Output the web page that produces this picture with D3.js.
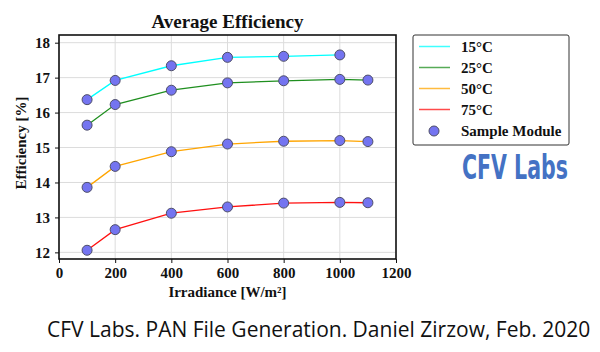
<!DOCTYPE html>
<html>
<head>
<meta charset="utf-8">
<script src="https://d3js.org/d3.v7.min.js"></script>
<style>
body{margin:0;background:#fff;}
text{font-family:"Liberation Serif","DejaVu Serif",serif;font-weight:bold;fill:#111;}
</style>
</head>
<body>
<div id="chart"></div>
<script>
// values
const irradiance = [100, 200, 400, 600, 800, 1000, 1100];
const temps = ['15°C', '25°C', '50°C', '75°C'];
const colors = ['#00ffff', '#1f8f1f', '#ffa500', '#ff1010'];
const eff15 = [16.37, 16.92, 17.34, 17.58, 17.61, 17.65];
const eff25 = [15.64, 16.23, 16.64, 16.85, 16.91, 16.95, 16.93];
const eff50 = [13.86, 14.46, 14.88, 15.10, 15.18, 15.20, 15.17];
const eff75 = [12.06, 12.65, 13.12, 13.30, 13.41, 13.43, 13.42];
const xTicks = [0, 200, 400, 600, 800, 1000, 1200];
const yTicks = [12, 13, 14, 15, 16, 17, 18];

const series = [eff15, eff25, eff50, eff75].map((vals, i) => ({
  name: temps[i],
  color: colors[i],
  pts: vals.map((v, j) => ({x: irradiance[j], y: v}))
}));

const W = 600, H = 352;
const margin = {top: 35, left: 59, right: 204, bottom: 93};
const pw = W - margin.left - margin.right;
const ph = H - margin.top - margin.bottom;

const svg = d3.select('#chart').append('svg')
  .attr('width', W).attr('height', H);

const x = d3.scaleLinear().domain([0, 1200]).range([0, pw]);
const y = d3.scaleLinear().domain([11.81, 18.22]).range([ph, 0]);

const g = svg.append('g').attr('transform', `translate(${margin.left},${margin.top})`);

// grid
g.append('g').selectAll('line').data(xTicks).join('line')
  .attr('x1', d => x(d)).attr('x2', d => x(d))
  .attr('y1', 0).attr('y2', ph)
  .attr('stroke', '#dcdcdc').attr('stroke-width', 1);
g.append('g').selectAll('line').data(yTicks).join('line')
  .attr('y1', d => y(d)).attr('y2', d => y(d))
  .attr('x1', 0).attr('x2', pw)
  .attr('stroke', '#dcdcdc').attr('stroke-width', 1);

// axes
const xAxis = g.append('g').attr('transform', `translate(0,${ph})`)
  .call(d3.axisBottom(x).tickValues(xTicks).tickFormat(d3.format('d')).tickSize(4).tickPadding(4));
const yAxis = g.append('g')
  .call(d3.axisLeft(y).tickValues(yTicks).tickFormat(d3.format('d')).tickSize(4).tickPadding(5));
[xAxis, yAxis].forEach(a => {
  a.select('.domain').remove();
  a.selectAll('line').attr('stroke', '#111');
  a.selectAll('text').style('font-size', '15px').style('font-family', '"Liberation Serif",serif').style('font-weight', 'bold').attr('fill', '#111');
});

// frame
g.append('rect').attr('width', pw).attr('height', ph)
  .attr('fill', 'none').attr('stroke', '#111').attr('stroke-width', 1.6);

// lines
const line = d3.line().x(d => x(d.x)).y(d => y(d.y));
g.selectAll('.ln').data(series).join('path')
  .attr('class', 'ln')
  .attr('d', d => line(d.pts))
  .attr('fill', 'none')
  .attr('stroke', d => d.color)
  .attr('stroke-width', 1.3);

// sample markers
series.forEach(s => {
  g.append('g').selectAll('circle').data(s.pts).join('circle')
    .attr('cx', d => x(d.x)).attr('cy', d => y(d.y)).attr('r', 5)
    .attr('fill', '#7474f0').attr('stroke', '#4e4e68').attr('stroke-width', 1);
});

// title and labels
svg.append('text').attr('x', margin.left + pw / 2).attr('y', 28)
  .attr('text-anchor', 'middle').style('font-size', '19px').text('Average Efficiency');
svg.append('text').attr('x', margin.left + pw / 2).attr('y', 297)
  .attr('text-anchor', 'middle').style('font-size', '15px').text('Irradiance [W/m²]');
svg.append('text').attr('transform', `translate(26,143) rotate(-90)`)
  .attr('text-anchor', 'middle').style('font-size', '15px').text('Efficiency [%]');

// legend
const leg = svg.append('g').attr('transform', 'translate(413,35)');
leg.append('rect').attr('width', 156).attr('height', 110).attr('rx', 2)
  .attr('fill', '#fff').attr('stroke', '#333').attr('stroke-width', 1);
series.forEach((s, i) => {
  const yy = 11.5 + i * 21;
  leg.append('line').attr('x1', 6).attr('x2', 37).attr('y1', yy).attr('y2', yy)
    .attr('stroke', s.color).attr('stroke-width', 1.5).attr('opacity', 0.75);
  leg.append('text').attr('x', 48).attr('y', yy + 5).style('font-size', '15px').text(s.name);
});
leg.append('circle').attr('cx', 21).attr('cy', 96).attr('r', 5)
  .attr('fill', '#7474f0').attr('stroke', '#4e4e68');
leg.append('text').attr('x', 48).attr('y', 101).style('font-size', '15px').text('Sample Module');

// brand, squeezed to a condensed look
const brand = svg.append('text').attr('x', 0).attr('y', 0)
  .style('font-family', '"DejaVu Sans",sans-serif').style('font-size', '34px')
  .style('font-weight', 'bold').style('fill', '#4472c4')
  .text('CFV Labs');
const bw = brand.node().getComputedTextLength();
brand.attr('transform', `translate(462,179) scale(${106 / bw},1)`);

// footer
svg.append('text').attr('x', 47).attr('y', 337)
  .style('font-family', '"Open Sans","Noto Sans",sans-serif').style('font-weight', 'normal')
  .style('font-size', '21px').text('CFV Labs. PAN File Generation. Daniel Zirzow, Feb. 2020');
</script>
</body>
</html>
